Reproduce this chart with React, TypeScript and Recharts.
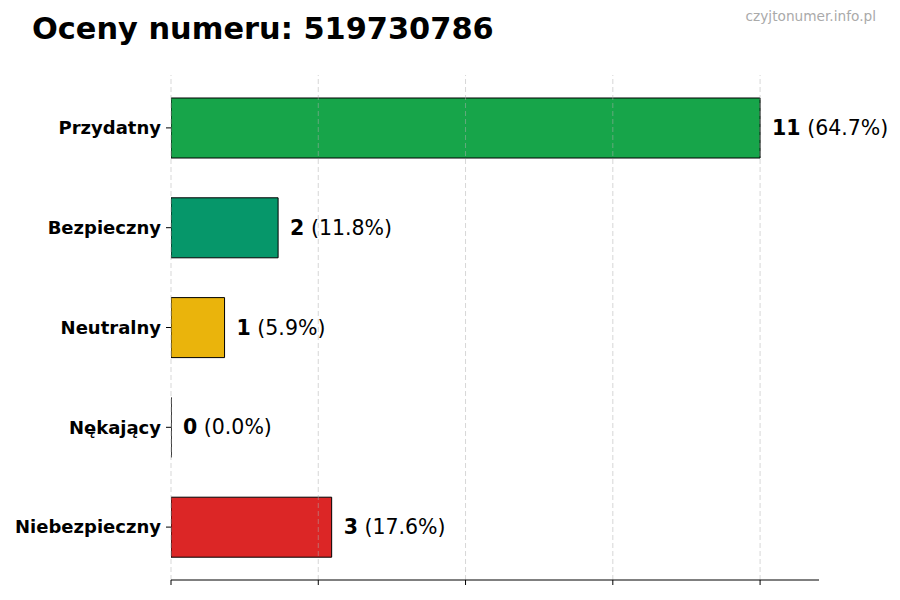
import { Bar, BarChart, LabelList, ReferenceLine, XAxis, YAxis } from "recharts";

const categories = ["Przydatny", "Bezpieczny", "Neutralny", "Nękający", "Niebezpieczny"];
const counts = [11, 2, 1, 0, 3];
const barColors = ["#17a54a", "#06976a", "#eab40c", "#9ca3af", "#dc2626"];
const gridTicks = [0, 2.75, 5.5, 8.25, 11];

const total = counts.reduce((a, b) => a + b, 0);

const data = categories.map((name, i) => ({
  name,
  value: counts[i],
  color: barColors[i],
  pct: ((counts[i] / total) * 100).toFixed(1),
}));

const FONT = "DejaVu Sans, sans-serif";

// path instead of rect so the empty bar still shows its outline
function BarShape(props: any) {
  const { x, y, width, height, payload } = props;
  const w = Math.max(width || 0, 0);
  return (
    <path
      d={`M${x},${y} h${w} v${height} h${-w} Z`}
      fill={payload.color}
      stroke="#000"
      strokeWidth={1}
    />
  );
}

function ValueLabel(props: any) {
  const { x, y, width, height, index } = props;
  const d = data[index];
  return (
    <text
      x={x + width + 12}
      y={y + height / 2}
      dominantBaseline="central"
      fontFamily={FONT}
      fontSize={20.5}
      fill="#000"
    >
      <tspan fontWeight="bold">{d.value}</tspan>
      <tspan> ({d.pct}%)</tspan>
    </text>
  );
}

export default function App() {
  return (
    <div
      style={{
        position: "absolute",
        left: 0,
        top: 0,
        width: 900,
        height: 600,
        background: "#fff",
        fontFamily: FONT,
      }}
    >
      <div
        style={{
          position: "absolute",
          left: 32,
          top: 11,
          fontSize: 30.4,
          fontWeight: "bold",
          color: "#000",
          whiteSpace: "nowrap",
        }}
      >
        Oceny numeru: 519730786
      </div>
      <div
        style={{
          position: "absolute",
          right: 24,
          top: 8,
          fontSize: 13.7,
          color: "#aaaaaa",
          whiteSpace: "nowrap",
        }}
      >
        czyjtonumer.info.pl
      </div>
      <BarChart
        width={900}
        height={600}
        data={data}
        layout="vertical"
        margin={{ top: 75, right: 81, bottom: 0, left: 0 }}
        style={{ position: "absolute", left: 0, top: 0 }}
      >
        <XAxis
          type="number"
          domain={[0, 12.1]}
          ticks={gridTicks}
          height={20}
          tickSize={5}
          tickFormatter={() => ""}
          axisLine={{ stroke: "#000" }}
          tickLine={{ stroke: "#000" }}
          allowDataOverflow
        />
        <YAxis
          type="category"
          dataKey="name"
          width={171}
          axisLine={false}
          tickSize={5}
          tickMargin={5}
          tickLine={{ stroke: "#000" }}
          padding={{ top: 3, bottom: 3 }}
          tick={{ fill: "#000", fontSize: 18, fontWeight: "bold", fontFamily: FONT }}
        />
        <Bar dataKey="value" barSize={60} shape={BarShape} isAnimationActive={false}>
          <LabelList dataKey="value" content={ValueLabel} />
        </Bar>
        {gridTicks.map((t) => (
          <ReferenceLine
            key={t}
            x={t}
            stroke="#b0b0b0"
            strokeOpacity={0.5}
            strokeDasharray="5 3"
            strokeWidth={1}
          />
        ))}
      </BarChart>
    </div>
  );
}
